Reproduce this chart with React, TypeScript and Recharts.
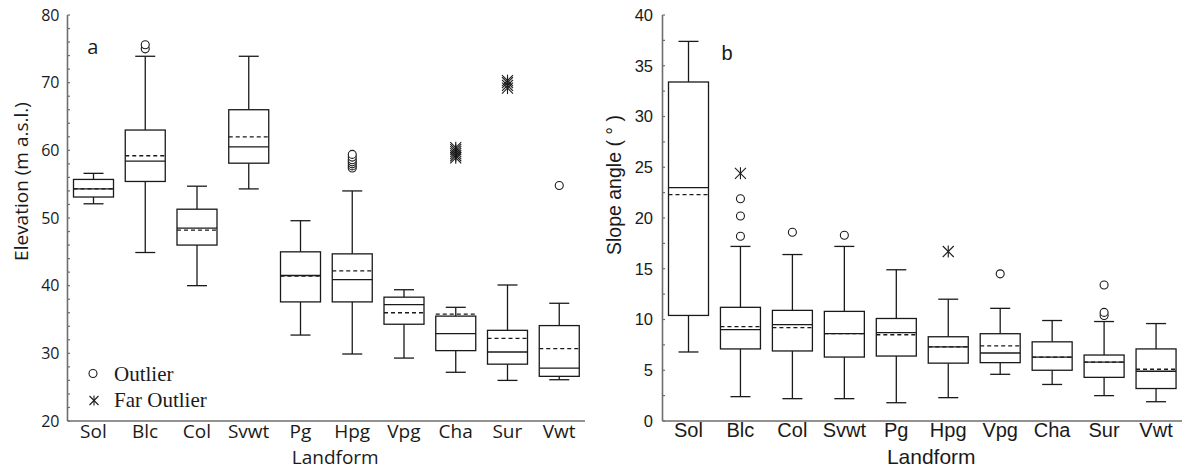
import { ComposedChart, Bar, XAxis, YAxis, Label } from "recharts";

const landforms = ["Sol", "Blc", "Col", "Svwt", "Pg", "Hpg", "Vpg", "Cha", "Sur", "Vwt"];

// panel a: elevation (m a.s.l.)
const elevMin = [52.1, 44.9, 40.0, 54.3, 32.7, 29.9, 29.3, 27.2, 26.0, 26.1];
const elevQ1 = [53.1, 55.4, 46.0, 58.1, 37.6, 37.6, 34.3, 30.4, 28.4, 26.6];
const elevMedian = [54.3, 58.4, 48.5, 60.5, 41.5, 40.9, 37.2, 32.9, 30.2, 27.8];
const elevMean = [54.3, 59.2, 48.2, 62.0, 41.4, 42.2, 36.0, 35.8, 32.2, 30.7];
const elevQ3 = [55.7, 63.0, 51.3, 66.0, 45.0, 44.7, 38.3, 35.5, 33.4, 34.1];
const elevMax = [56.6, 73.9, 54.7, 73.9, 49.6, 54.0, 39.4, 36.8, 40.1, 37.4];
const elevOutliers = [[], [75.0, 75.6], [], [], [], [57.4, 57.7, 58.0, 58.3, 58.6, 59.0, 59.4], [], [], [], [54.8]];
const elevFar = [[], [], [], [], [], [], [], [58.9, 59.2, 59.5, 59.8, 60.1, 60.4], [69.2, 69.6, 70.0, 70.3], []];
const elevMajorTicks = [20, 30, 40, 50, 60, 70, 80];

// panel b: slope angle (degrees)
const slopeMin = [6.8, 2.4, 2.2, 2.2, 1.8, 2.3, 4.6, 3.6, 2.5, 1.9];
const slopeQ1 = [10.4, 7.1, 6.9, 6.3, 6.4, 5.7, 5.75, 5.0, 4.3, 3.2];
const slopeMedian = [23.0, 9.0, 9.5, 8.6, 8.7, 7.3, 6.7, 6.3, 5.8, 4.9];
const slopeMean = [22.3, 9.3, 9.2, 8.6, 8.5, 7.3, 7.4, 6.3, 5.8, 5.1];
const slopeQ3 = [33.4, 11.2, 10.9, 10.8, 10.1, 8.3, 8.6, 7.8, 6.5, 7.1];
const slopeMax = [37.4, 17.2, 16.4, 17.2, 14.9, 12.0, 11.1, 9.9, 9.8, 9.6];
const slopeOutliers = [[], [18.2, 20.2, 21.9], [18.6], [18.3], [], [], [14.5], [], [10.4, 10.7, 13.4], []];
const slopeFar = [[], [24.4], [], [], [], [16.7], [], [], [], []];
const slopeMajorTicks = [0, 5, 10, 15, 20, 25, 30, 35, 40];

type BoxRow = {
  name: string;
  range: [number, number];
  min: number;
  q1: number;
  median: number;
  mean: number;
  q3: number;
  max: number;
  outliers: number[];
  far: number[];
};

function buildRows(
  min: number[], q1: number[], median: number[], mean: number[], q3: number[], max: number[],
  outliers: number[][], far: number[][]
): BoxRow[] {
  return landforms.map((name, i) => ({
    name,
    range: [min[i], max[i]],
    min: min[i],
    q1: q1[i],
    median: median[i],
    mean: mean[i],
    q3: q3[i],
    max: max[i],
    outliers: outliers[i],
    far: far[i],
  }));
}

const elevRows = buildRows(elevMin, elevQ1, elevMedian, elevMean, elevQ3, elevMax, elevOutliers, elevFar);
const slopeRows = buildRows(slopeMin, slopeQ1, slopeMedian, slopeMean, slopeQ3, slopeMax, slopeOutliers, slopeFar);

// minor ticks between the labelled ones
function withMinors(majors: number[], parts: number) {
  const out: number[] = [];
  for (let i = 0; i < majors.length - 1; i++) {
    const step = (majors[i + 1] - majors[i]) / parts;
    for (let j = 0; j < parts; j++) out.push(majors[i] + j * step);
  }
  out.push(majors[majors.length - 1]);
  return out;
}

const INK = "#1a1a1a";
const AXIS = "#6e6e6e";

function Star({ cx, cy, s = 6, d = 5.5 }: { cx: number; cy: number; s?: number; d?: number }) {
  return (
    <g stroke={INK} strokeWidth={1.1}>
      <line x1={cx} y1={cy - s} x2={cx} y2={cy + s} />
      <line x1={cx - d} y1={cy - d} x2={cx + d} y2={cy + d} />
      <line x1={cx - d} y1={cy + d} x2={cx + d} y2={cy - d} />
    </g>
  );
}

// whisker box drawn inside the min..max range bar, other stats mapped through the bar's own pixel span
function BoxShape(props: any) {
  const { x, y, width, height, payload } = props;
  const row: BoxRow = payload;
  const top = Math.min(y, y + height);
  const h = Math.abs(height);
  const k = h / (row.max - row.min);
  const py = (v: number) => top + (row.max - v) * k;
  const cx = x + width / 2;
  const cap = width / 4;
  return (
    <g fill="none" stroke={INK} strokeWidth={1.3}>
      <line x1={cx} x2={cx} y1={py(row.max)} y2={py(row.q3)} />
      <line x1={cx} x2={cx} y1={py(row.q1)} y2={py(row.min)} />
      <line x1={cx - cap} x2={cx + cap} y1={py(row.max)} y2={py(row.max)} />
      <line x1={cx - cap} x2={cx + cap} y1={py(row.min)} y2={py(row.min)} />
      <rect x={x} y={py(row.q3)} width={width} height={py(row.q1) - py(row.q3)} fill="#fff" />
      <line x1={x} x2={x + width} y1={py(row.median)} y2={py(row.median)} />
      <line x1={x} x2={x + width} y1={py(row.mean)} y2={py(row.mean)} strokeDasharray="4 3" />
      {row.outliers.map((v, i) => (
        <circle key={"o" + i} cx={cx} cy={py(v)} r={4} fill="#fff" strokeWidth={1.1} />
      ))}
      {row.far.map((v, i) => (
        <Star key={"f" + i} cx={cx} cy={py(v)} />
      ))}
    </g>
  );
}

function makeYTick(majors: number[], margin: number, font: string, size: number) {
  return (props: any) => {
    const { x, y, payload } = props;
    const v = payload.value;
    const isMajor = majors.some((m) => Math.abs(m - v) < 1e-6);
    const ax = x + margin;
    return (
      <g>
        <line x1={ax} x2={ax + 2.5} y1={y} y2={y} stroke={AXIS} strokeWidth={1.2} />
        {isMajor && (
          <text x={x} y={y} dy="0.36em" textAnchor="end" fontFamily={font} fontSize={size} fill={INK}>
            {v}
          </text>
        )}
      </g>
    );
  };
}

const leftFont = "'Open Sans', sans-serif";
const rightFont = "'Liberation Sans', Arial, sans-serif";
const serif = "'Liberation Serif', 'Times New Roman', serif";

export default function App() {
  return (
    <div style={{ position: "absolute", left: 0, top: 0, width: 1184, height: 469, background: "#fff" }}>
      <div style={{ position: "absolute", left: 0, top: 0 }}>
        <ComposedChart width={585} height={469} data={elevRows} margin={{ top: 15, right: 0, bottom: 0, left: 0 }}>
          <XAxis
            dataKey="name"
            interval={0}
            height={48}
            tickLine={false}
            tickSize={0}
            tickMargin={4}
            axisLine={{ stroke: AXIS, strokeWidth: 1.6 }}
            tick={{ fill: INK, fontSize: 19, fontFamily: leftFont }}
          >
            <Label
              content={(p: any) => (
                <text x={p.viewBox.x + p.viewBox.width / 2 + 9} y={464} textAnchor="middle" fontFamily={leftFont} fontSize={19} fill={INK}>
                  Landform
                </text>
              )}
            />
          </XAxis>
          <YAxis
            type="number"
            width={67.5}
            domain={[20, 80]}
            ticks={withMinors(elevMajorTicks, 5)}
            interval={0}
            tickSize={0}
            tickMargin={8}
            tickLine={false}
            axisLine={{ stroke: AXIS, strokeWidth: 1.6 }}
            tick={makeYTick(elevMajorTicks, 8, leftFont, 16)}
          >
            <Label
              content={() => (
                <text transform={`translate(27.5, 181.5) rotate(-90)`} textAnchor="middle" fontFamily={leftFont} fontSize={19} fill={INK}>
                  Elevation (m a.s.l.)
                </text>
              )}
            />
          </YAxis>
          <Bar dataKey="range" barSize={40} shape={BoxShape} isAnimationActive={false} />
        </ComposedChart>
      </div>

      <div style={{ position: "absolute", left: 590, top: 0 }}>
        <ComposedChart width={592} height={469} data={slopeRows} margin={{ top: 15, right: 0, bottom: 0, left: 0 }}>
          <XAxis
            dataKey="name"
            interval={0}
            height={48}
            tickLine={false}
            tickSize={0}
            tickMargin={2}
            axisLine={{ stroke: AXIS, strokeWidth: 1.6 }}
            tick={{ fill: INK, fontSize: 20, fontFamily: rightFont }}
          >
            <Label
              content={(p: any) => (
                <text x={p.viewBox.x + p.viewBox.width / 2 + 9} y={464} textAnchor="middle" fontFamily={rightFont} fontSize={21} fill={INK}>
                  Landform
                </text>
              )}
            />
          </XAxis>
          <YAxis
            type="number"
            width={72.5}
            domain={[0, 40]}
            ticks={withMinors(slopeMajorTicks, 2)}
            interval={0}
            tickSize={0}
            tickMargin={9.5}
            tickLine={false}
            axisLine={{ stroke: AXIS, strokeWidth: 1.6 }}
            tick={makeYTick(slopeMajorTicks, 9.5, rightFont, 16.5)}
          >
            <Label
              content={() => (
                <text transform={`translate(31, 185) rotate(-90)`} textAnchor="middle" fontFamily={rightFont} fontSize={19.5} fill={INK}>
                  Slope angle ( ° )
                </text>
              )}
            />
          </YAxis>
          <Bar dataKey="range" barSize={40} shape={BoxShape} isAnimationActive={false} />
        </ComposedChart>
      </div>

      {/* panel letters and the marker key */}
      <svg width={1184} height={469} style={{ position: "absolute", left: 0, top: 0, pointerEvents: "none" }}>
        <text x={92.7} y={54} textAnchor="middle" fontFamily={leftFont} fontSize={20} fill={INK}>a</text>
        <text x={727} y={60} textAnchor="middle" fontFamily={rightFont} fontSize={20} fill={INK}>b</text>
        <circle cx={93} cy={373.5} r={4} fill="none" stroke={INK} strokeWidth={1.1} />
        <text x={114} y={381} fontFamily={serif} fontSize={21} fill={INK}>Outlier</text>
        <Star cx={94} cy={400.5} s={5} d={4.5} />
        <text x={114} y={407} fontFamily={serif} fontSize={21} fill={INK}>Far Outlier</text>
      </svg>
    </div>
  );
}
